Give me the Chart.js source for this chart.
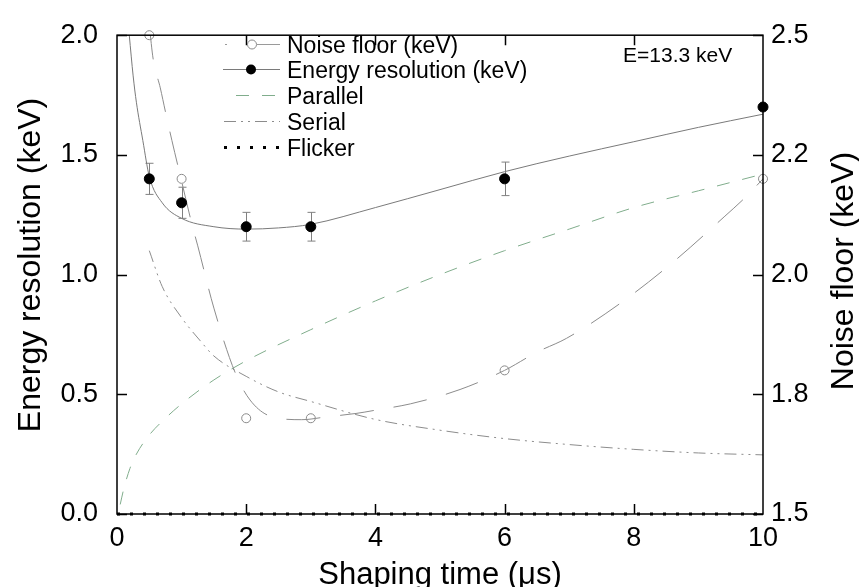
<!DOCTYPE html>
<html>
<head>
<meta charset="utf-8">
<script src="https://cdn.jsdelivr.net/npm/chart.js@4.4.0/dist/chart.umd.min.js"></script>
<style>
  body { margin: 0; background: #fff; }
  canvas { display: block; }
</style>
</head>
<body>
<canvas id="noiseChart" width="859" height="587"></canvas>
<script>
// measured points
const shapingTimes = [0.5, 1, 2, 3, 6, 10];
const energyRes = [1.40, 1.30, 1.20, 1.20, 1.40, 1.70];
const energyResErr = [0.065, 0.065, 0.06, 0.06, 0.07, 0];
const noiseFloor = [2.5, 2.2, 1.7, 1.7, 1.8, 2.2];

// fitted curves
const resFitX = [0.19, 0.25, 0.3, 0.4, 0.5, 0.7, 1.0, 1.5, 2.0, 2.5, 3.0, 4.0, 5.0, 6.0, 7.0, 8.0, 9.0, 10];
const resFitY = [2.0, 1.83, 1.72, 1.56, 1.41, 1.30, 1.235, 1.20, 1.19, 1.195, 1.21, 1.28, 1.355, 1.43, 1.495, 1.555, 1.615, 1.67];

const noiseFitX = [0.5, 0.56, 0.67, 0.75, 0.85, 1.0, 1.16, 1.25, 1.5, 1.83, 2.06, 2.4, 2.86, 3.25, 3.7, 4.05, 4.54, 5.31, 6.0, 6.5, 6.96, 7.79, 8.59, 9.41, 9.74, 10];
const noiseFitY = [2.52, 2.45, 2.39, 2.34, 2.28, 2.195, 2.105, 2.06, 1.93, 1.795, 1.738, 1.703, 1.697, 1.703, 1.71, 1.718, 1.73, 1.76, 1.80, 1.838, 1.867, 1.94, 2.024, 2.122, 2.163, 2.20];

const parallelX = [0.05, 0.1, 0.2, 0.3, 0.5, 0.75, 1.0, 1.5, 2.0, 3.0, 4.0, 5.0, 6.0, 7.0, 8.0, 9.0, 10];
const parallelY = [0.04, 0.10, 0.19, 0.25, 0.33, 0.40, 0.46, 0.56, 0.64, 0.77, 0.89, 1.0, 1.10, 1.19, 1.28, 1.35, 1.42];

const serialX = [0.5, 0.7, 1.0, 1.3, 1.5, 2.0, 2.5, 3.0, 4.0, 5.0, 6.0, 7.0, 8.0, 9.0, 10];
const serialY = [1.10, 0.95, 0.82, 0.72, 0.66, 0.575, 0.51, 0.47, 0.395, 0.35, 0.315, 0.29, 0.27, 0.255, 0.247];

const flickerX = [0, 10];
const flickerY = [0, 0];

// right axis labels as printed on the original
const rightTickLabels = ['1.5', '1.8', '2.0', '2.2', '2.5'];

const FONT = "'Liberation Sans', Arial, sans-serif";

function pts(xs, ys) {
    return xs.map((x, i) => ({ x: x, y: ys[i] }));
}

// error bars under the filled points
const errorBars = {
    id: 'errorBars',
    beforeDatasetsDraw(chart) {
        const c = chart.ctx;
        const xs = chart.scales.x, ys = chart.scales.y;
        c.save();
        c.strokeStyle = '#808080';
        c.lineWidth = 1;
        shapingTimes.forEach((t, i) => {
            if (!energyResErr[i]) return;
            const px = Math.round(xs.getPixelForValue(t)) + 0.5;
            const top = ys.getPixelForValue(energyRes[i] + energyResErr[i]);
            const bot = ys.getPixelForValue(energyRes[i] - energyResErr[i]);
            c.beginPath();
            c.moveTo(px, top); c.lineTo(px, bot);
            c.moveTo(px - 4, top); c.lineTo(px + 4, top);
            c.moveTo(px - 4, bot); c.lineTo(px + 4, bot);
            c.stroke();
        });
        c.restore();
    }
};

// box frame, inward ticks, titles, legend
const decorations = {
    id: 'decorations',
    afterDraw(chart) {
        const c = chart.ctx;
        const a = chart.chartArea;
        const xs = chart.scales.x, ys = chart.scales.y, y2 = chart.scales.y2;
        c.save();
        c.strokeStyle = '#000';
        c.lineWidth = 1.5;
        c.strokeRect(a.left, a.top, a.right - a.left, a.bottom - a.top);

        c.beginPath();
        xs.ticks.forEach(t => {
            if (t.value <= xs.min || t.value >= xs.max) return;
            const px = Math.round(xs.getPixelForValue(t.value)) + 0.5;
            c.moveTo(px, a.bottom); c.lineTo(px, a.bottom - 10);
            c.moveTo(px, a.top); c.lineTo(px, a.top + 10);
        });
        ys.ticks.forEach(t => {
            const py = Math.round(ys.getPixelForValue(t.value)) + 0.5;
            c.moveTo(a.left, py); c.lineTo(a.left + 10, py);
        });
        y2.ticks.forEach(t => {
            const py = Math.round(y2.getPixelForValue(t.value)) + 0.5;
            c.moveTo(a.right, py); c.lineTo(a.right - 10, py);
        });
        c.stroke();

        // axis titles
        c.fillStyle = '#000';
        c.textAlign = 'center';
        c.textBaseline = 'alphabetic';
        c.font = '31px ' + FONT;
        c.fillText('Shaping time (\u03bcs)', (a.left + a.right) / 2, 584);

        c.font = '32px ' + FONT;
        c.save();
        c.translate(40, 265);
        c.rotate(-Math.PI / 2);
        c.fillText('Energy resolution (keV)', 0, 0);
        c.restore();

        c.save();
        c.translate(853, 271);
        c.rotate(-Math.PI / 2);
        c.fillText('Noise floor (keV)', 0, 0);
        c.restore();

        c.textAlign = 'left';
        c.font = '21px ' + FONT;
        c.fillText('E=13.3 keV', 623, 62);

        // legend
        const rows = [0, 1, 4, 5, 6];
        const baselines = [53, 78, 104, 130, 156];
        c.font = '23px ' + FONT;
        rows.forEach((di, r) => {
            const ds = chart.data.datasets[di];
            const ly = baselines[r] - 8.5;
            c.save();
            if (di === 0) {
                c.strokeStyle = '#9a9a9a';
                c.lineWidth = 1;
                c.beginPath();
                c.moveTo(225, ly); c.lineTo(227, ly);
                c.moveTo(257, ly); c.lineTo(280, ly);
                c.stroke();
                c.beginPath();
                c.arc(252, ly, ds.pointRadius, 0, Math.PI * 2);
                c.strokeStyle = ds.borderColor;
                c.stroke();
            } else if (di === 1) {
                c.strokeStyle = chart.data.datasets[3].borderColor;
                c.lineWidth = 1;
                c.beginPath();
                c.moveTo(223, ly); c.lineTo(280, ly);
                c.stroke();
                c.beginPath();
                c.arc(251, ly, ds.pointRadius, 0, Math.PI * 2);
                c.fillStyle = ds.backgroundColor;
                c.fill();
            } else {
                c.strokeStyle = ds.borderColor;
                c.lineWidth = ds.borderWidth;
                c.setLineDash(ds.borderDash);
                c.beginPath();
                const x0 = di === 4 ? 236 : 224;
                c.moveTo(x0, ly); c.lineTo(280, ly);
                c.stroke();
            }
            c.restore();
            c.fillStyle = '#000';
            c.fillText(ds.label, 287, baselines[r]);
        });
        c.restore();
    }
};

new Chart(document.getElementById('noiseChart'), {
    type: 'scatter',
    data: {
        datasets: [
            {
                label: 'Noise floor (keV)',
                data: pts(shapingTimes, noiseFloor),
                yAxisID: 'y2',
                pointRadius: 4.5,
                pointBorderWidth: 1,
                borderColor: '#8a8a8a',
                backgroundColor: 'rgba(0,0,0,0)',
                clip: false
            },
            {
                label: 'Energy resolution (keV)',
                data: pts(shapingTimes, energyRes),
                yAxisID: 'y',
                pointRadius: 5,
                borderColor: '#000',
                backgroundColor: '#000',
                clip: false
            },
            {
                label: 'Noise floor fit',
                data: pts(noiseFitX, noiseFitY),
                yAxisID: 'y2',
                showLine: true,
                pointRadius: 0,
                borderColor: '#8c8c8c',
                borderWidth: 1,
                borderDash: [34, 20],
                cubicInterpolationMode: 'monotone'
            },
            {
                label: 'Energy resolution fit',
                data: pts(resFitX, resFitY),
                yAxisID: 'y',
                showLine: true,
                pointRadius: 0,
                borderColor: '#7a7a7a',
                borderWidth: 1,
                cubicInterpolationMode: 'monotone'
            },
            {
                label: 'Parallel',
                data: pts(parallelX, parallelY),
                yAxisID: 'y',
                showLine: true,
                pointRadius: 0,
                borderColor: '#80ad8c',
                borderWidth: 1,
                borderDash: [13, 13],
                cubicInterpolationMode: 'monotone'
            },
            {
                label: 'Serial',
                data: pts(serialX, serialY),
                yAxisID: 'y',
                showLine: true,
                pointRadius: 0,
                borderColor: '#8c8c8c',
                borderWidth: 1,
                borderDash: [12, 5, 2, 5, 2, 5],
                cubicInterpolationMode: 'monotone'
            },
            {
                label: 'Flicker',
                data: pts(flickerX, flickerY),
                yAxisID: 'y',
                showLine: true,
                pointRadius: 0,
                borderColor: '#000',
                borderWidth: 3,
                borderDash: [3, 10],
                clip: false
            }
        ]
    },
    options: {
        responsive: false,
        animation: false,
        events: [],
        layout: { padding: { top: 28, left: 0, right: 0, bottom: 0 } },
        plugins: {
            legend: { display: false },
            tooltip: { enabled: false }
        },
        scales: {
            x: {
                type: 'linear',
                min: 0,
                max: 10,
                afterFit: s => { s.height = 73; },
                grid: { display: false, drawTicks: false },
                border: { display: false },
                ticks: {
                    stepSize: 2,
                    padding: 8,
                    color: '#000',
                    font: { family: FONT, size: 27 }
                }
            },
            y: {
                position: 'left',
                min: 0,
                max: 2,
                afterFit: s => { s.width = 117; },
                grid: { display: false, drawTicks: false },
                border: { display: false },
                ticks: {
                    stepSize: 0.5,
                    padding: 19,
                    color: '#000',
                    font: { family: FONT, size: 27 },
                    callback: v => v.toFixed(1)
                }
            },
            y2: {
                position: 'right',
                min: 1.5,
                max: 2.5,
                afterFit: s => { s.width = 96; },
                grid: { display: false, drawTicks: false },
                border: { display: false },
                ticks: {
                    stepSize: 0.25,
                    padding: 8,
                    color: '#000',
                    font: { family: FONT, size: 27 },
                    callback: (v, i) => rightTickLabels[i]
                }
            }
        }
    },
    plugins: [errorBars, decorations]
});
</script>
</body>
</html>
